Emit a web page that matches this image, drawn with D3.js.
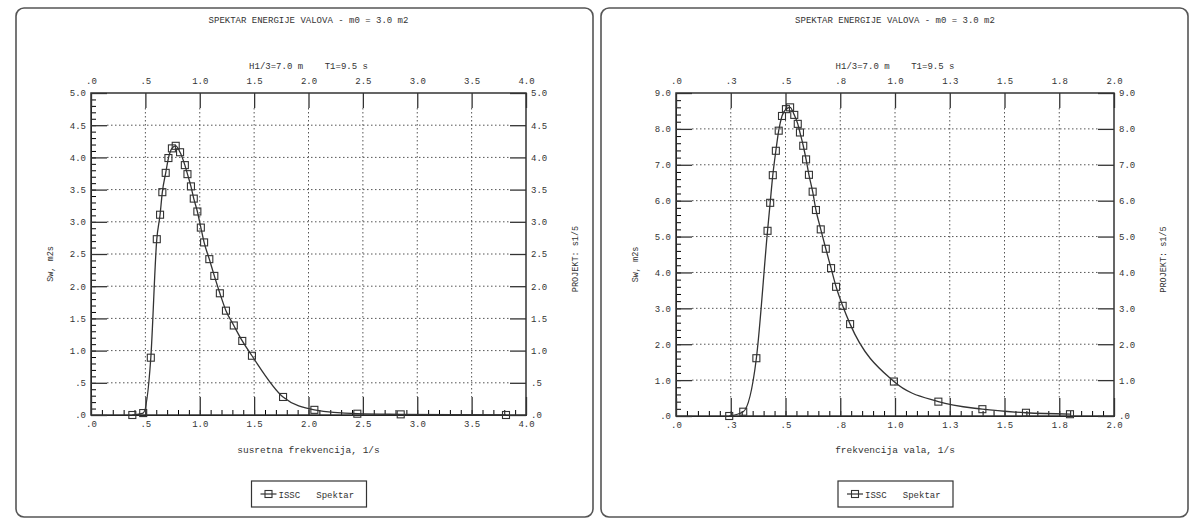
<!DOCTYPE html>
<html>
<head>
<meta charset="utf-8">
<script src="https://cdn.jsdelivr.net/npm/d3@7"></script>
<style>
  body { margin: 0; background: #fff; }
  text { font-family: "Liberation Mono", "DejaVu Sans Mono", monospace; fill: #333; }
</style>
</head>
<body>
<div id="canvas"></div>
<script>
// chart data
var titleText = "SPEKTAR ENERGIJE VALOVA - m0 = 3.0 m2";
var subText = "H1/3=7.0 m    T1=9.5 s";
var yLabel = "Sw, m2s";
var y2Label = "PROJEKT: s1/5";
var legendText = "ISSC   Spektar";

// left: encounter frequency spectrum
var leftXTitle = "susretna frekvencija, 1/s";
var leftFreq = [0.38, 0.48, 0.55, 0.605, 0.635, 0.656, 0.687, 0.712, 0.744, 0.779,
  0.819, 0.863, 0.887, 0.919, 0.945, 0.978, 1.01, 1.04, 1.088, 1.134,
  1.185, 1.241, 1.313, 1.391, 1.48, 1.766, 2.054, 2.449, 2.848, 3.816];
var leftSw = [0, 0.03, 0.89, 2.73, 3.11, 3.46, 3.76, 3.99, 4.14, 4.18,
  4.08, 3.88, 3.74, 3.55, 3.36, 3.16, 2.91, 2.68, 2.42, 2.16,
  1.89, 1.62, 1.39, 1.15, 0.92, 0.28, 0.08, 0.02, 0.01, 0];
var leftXTicks = [0, 0.5, 1, 1.5, 2, 2.5, 3, 3.5, 4];
var leftYTicks = [0, 0.5, 1, 1.5, 2, 2.5, 3, 3.5, 4, 4.5, 5];

// right: wave frequency spectrum
var rightXTitle = "frekvencija vala, 1/s";
var rightFreq = [0.243, 0.307, 0.367, 0.418, 0.43, 0.442, 0.456, 0.469, 0.484, 0.502,
  0.521, 0.54, 0.556, 0.566, 0.581, 0.594, 0.607, 0.624, 0.639, 0.661,
  0.684, 0.708, 0.731, 0.761, 0.795, 0.995, 1.198, 1.399, 1.598, 1.799];
var rightSw = [0, 0.12, 1.61, 5.16, 5.94, 6.71, 7.39, 7.95, 8.36, 8.55,
  8.6, 8.39, 8.14, 7.9, 7.53, 7.15, 6.72, 6.25, 5.74, 5.2,
  4.66, 4.12, 3.6, 3.07, 2.56, 0.96, 0.4, 0.19, 0.09, 0.05];
var rightXTicks = [0, 0.25, 0.5, 0.75, 1, 1.25, 1.5, 1.75, 2];
var rightYTicks = [0, 1, 2, 3, 4, 5, 6, 7, 8, 9];

var width = 1196, height = 524;

var svg = d3.select("#canvas").append("svg")
  .attr("width", width).attr("height", height);

// 0.25 -> ".3", 0 -> ".0" like the old plotter
function fmt(v) {
  return d3.format(".1f")(v).replace(/^0/, "");
}

function drawPanel(p) {
  var g = svg.append("g");

  // frame of the sheet
  g.append("rect")
    .attr("x", p.frame[0]).attr("y", p.frame[1])
    .attr("width", p.frame[2]).attr("height", p.frame[3])
    .attr("rx", 8)
    .attr("fill", "none").attr("stroke", "#555").attr("stroke-width", 1.6);

  var x = d3.scaleLinear().domain([p.xTicks[0], p.xTicks[p.xTicks.length - 1]]).range([p.left, p.right]);
  var y = d3.scaleLinear().domain([p.yTicks[0], p.yTicks[p.yTicks.length - 1]]).range([p.bottom, p.top]);
  var cx = (p.left + p.right) / 2;

  // dotted grid
  g.append("g").selectAll("line").data(p.xTicks.slice(1, -1)).enter().append("line")
    .attr("x1", (d) => x(d)).attr("x2", (d) => x(d))
    .attr("y1", p.top + 15).attr("y2", p.bottom - 18)
    .attr("stroke", "#555").attr("stroke-width", 1).attr("stroke-dasharray", "1.5,2.5");
  g.append("g").selectAll("line").data(p.yTicks.slice(1, -1)).enter().append("line")
    .attr("x1", p.left + 16).attr("x2", p.right - 16)
    .attr("y1", (d) => y(d)).attr("y2", (d) => y(d))
    .attr("stroke", "#555").attr("stroke-width", 1).attr("stroke-dasharray", "1.5,2.5");

  // minor ticks
  var minorX = d3.range(p.xTicks[0], p.xTicks[p.xTicks.length - 1] + 1e-9, p.xMinor);
  var minorY = d3.range(p.yTicks[0], p.yTicks[p.yTicks.length - 1] + 1e-9, p.yMinor);
  g.append("g").attr("transform", "translate(0," + p.bottom + ")")
    .call(d3.axisBottom(x).tickValues(minorX).tickSize(-5).tickFormat(""));
  g.append("g").attr("transform", "translate(" + p.left + ",0)")
    .call(d3.axisLeft(y).tickValues(minorY).tickSize(-5).tickFormat(""));

  // major axes, ticks pointing inward
  var bottomAxis = g.append("g").attr("transform", "translate(0," + p.bottom + ")")
    .call(d3.axisBottom(x).tickValues(p.xTicks).tickSize(-18).tickPadding(6).tickFormat(fmt));
  var topAxis = g.append("g").attr("transform", "translate(0," + p.top + ")")
    .call(d3.axisTop(x).tickValues(p.xTicks).tickSize(-15).tickPadding(9).tickFormat(fmt));
  var leftAxis = g.append("g").attr("transform", "translate(" + p.left + ",0)")
    .call(d3.axisLeft(y).tickValues(p.yTicks).tickSize(-16).tickPadding(5).tickFormat(fmt));
  var rightAxis = g.append("g").attr("transform", "translate(" + p.right + ",0)")
    .call(d3.axisRight(y).tickValues(p.yTicks).tickSize(-16).tickPadding(5).tickFormat(fmt));

  [bottomAxis, topAxis, leftAxis, rightAxis].forEach(function (a) {
    a.selectAll("text").style("font-size", "9px").attr("fill", "#333")
      .style("font-family", "'Liberation Mono', monospace");
    a.selectAll("line").attr("stroke", "#333").attr("stroke-width", 1.3);
    a.select(".domain").remove();
  });

  // plot border
  g.append("rect")
    .attr("x", p.left).attr("y", p.top)
    .attr("width", p.right - p.left).attr("height", p.bottom - p.top)
    .attr("fill", "none").attr("stroke", "#333").attr("stroke-width", 1.5);

  // titles
  g.append("text").attr("x", cx).attr("y", 23).attr("text-anchor", "middle")
    .style("font-size", "9px").text(titleText);
  g.append("text").attr("x", cx).attr("y", 69).attr("text-anchor", "middle")
    .style("font-size", "9px").style("white-space", "pre").text(subText);
  g.append("text").attr("x", cx).attr("y", 453).attr("text-anchor", "middle")
    .style("font-size", "9.5px").text(p.xTitle);
  g.append("text")
    .attr("transform", "translate(" + (p.left - 38) + "," + ((p.top + p.bottom) / 2 + 10) + ") rotate(-90)")
    .attr("text-anchor", "middle").style("font-size", "8.5px").text(yLabel);
  g.append("text")
    .attr("transform", "translate(" + (p.right + 52) + "," + ((p.top + p.bottom) / 2 + 5) + ") rotate(-90)")
    .attr("text-anchor", "middle").style("font-size", "8.5px").text(y2Label);

  // the spectrum
  var pts = p.freq.map((f, i) => [f, p.sw[i]]);
  g.append("path").datum(pts)
    .attr("fill", "none").attr("stroke", "#333").attr("stroke-width", 1.3)
    .attr("d", d3.line().x((d) => x(d[0])).y((d) => y(d[1])).curve(d3.curveMonotoneX));
  g.append("g").selectAll("rect").data(pts).enter().append("rect")
    .attr("x", (d) => x(d[0]) - 3.5).attr("y", (d) => y(d[1]) - 3.5)
    .attr("width", 7).attr("height", 7)
    .attr("fill", "none").attr("stroke", "#333").attr("stroke-width", 1.1);

  // legend box
  var lg = g.append("g").attr("transform", "translate(" + (cx - 57) + ",481)");
  lg.append("rect").attr("width", 115).attr("height", 26)
    .attr("fill", "#fff").attr("stroke", "#333").attr("stroke-width", 1.2);
  lg.append("line").attr("x1", 9).attr("x2", 25).attr("y1", 13).attr("y2", 13)
    .attr("stroke", "#333").attr("stroke-width", 1.2);
  lg.append("rect").attr("x", 13.5).attr("y", 9.5).attr("width", 7).attr("height", 7)
    .attr("fill", "none").attr("stroke", "#333").attr("stroke-width", 1.1);
  lg.append("text").attr("x", 27).attr("y", 16.5).style("font-size", "9px")
    .style("white-space", "pre").text(legendText);
}

drawPanel({
  frame: [16, 8, 577, 509], left: 91, right: 526, top: 93, bottom: 415,
  xTicks: leftXTicks, yTicks: leftYTicks, xMinor: 0.1, yMinor: 0.1,
  freq: leftFreq, sw: leftSw, xTitle: leftXTitle
});
drawPanel({
  frame: [601, 8, 587, 509], left: 676, right: 1114, top: 93, bottom: 416,
  xTicks: rightXTicks, yTicks: rightYTicks, xMinor: 0.05, yMinor: 0.2,
  freq: rightFreq, sw: rightSw, xTitle: rightXTitle
});
</script>
</body>
</html>
